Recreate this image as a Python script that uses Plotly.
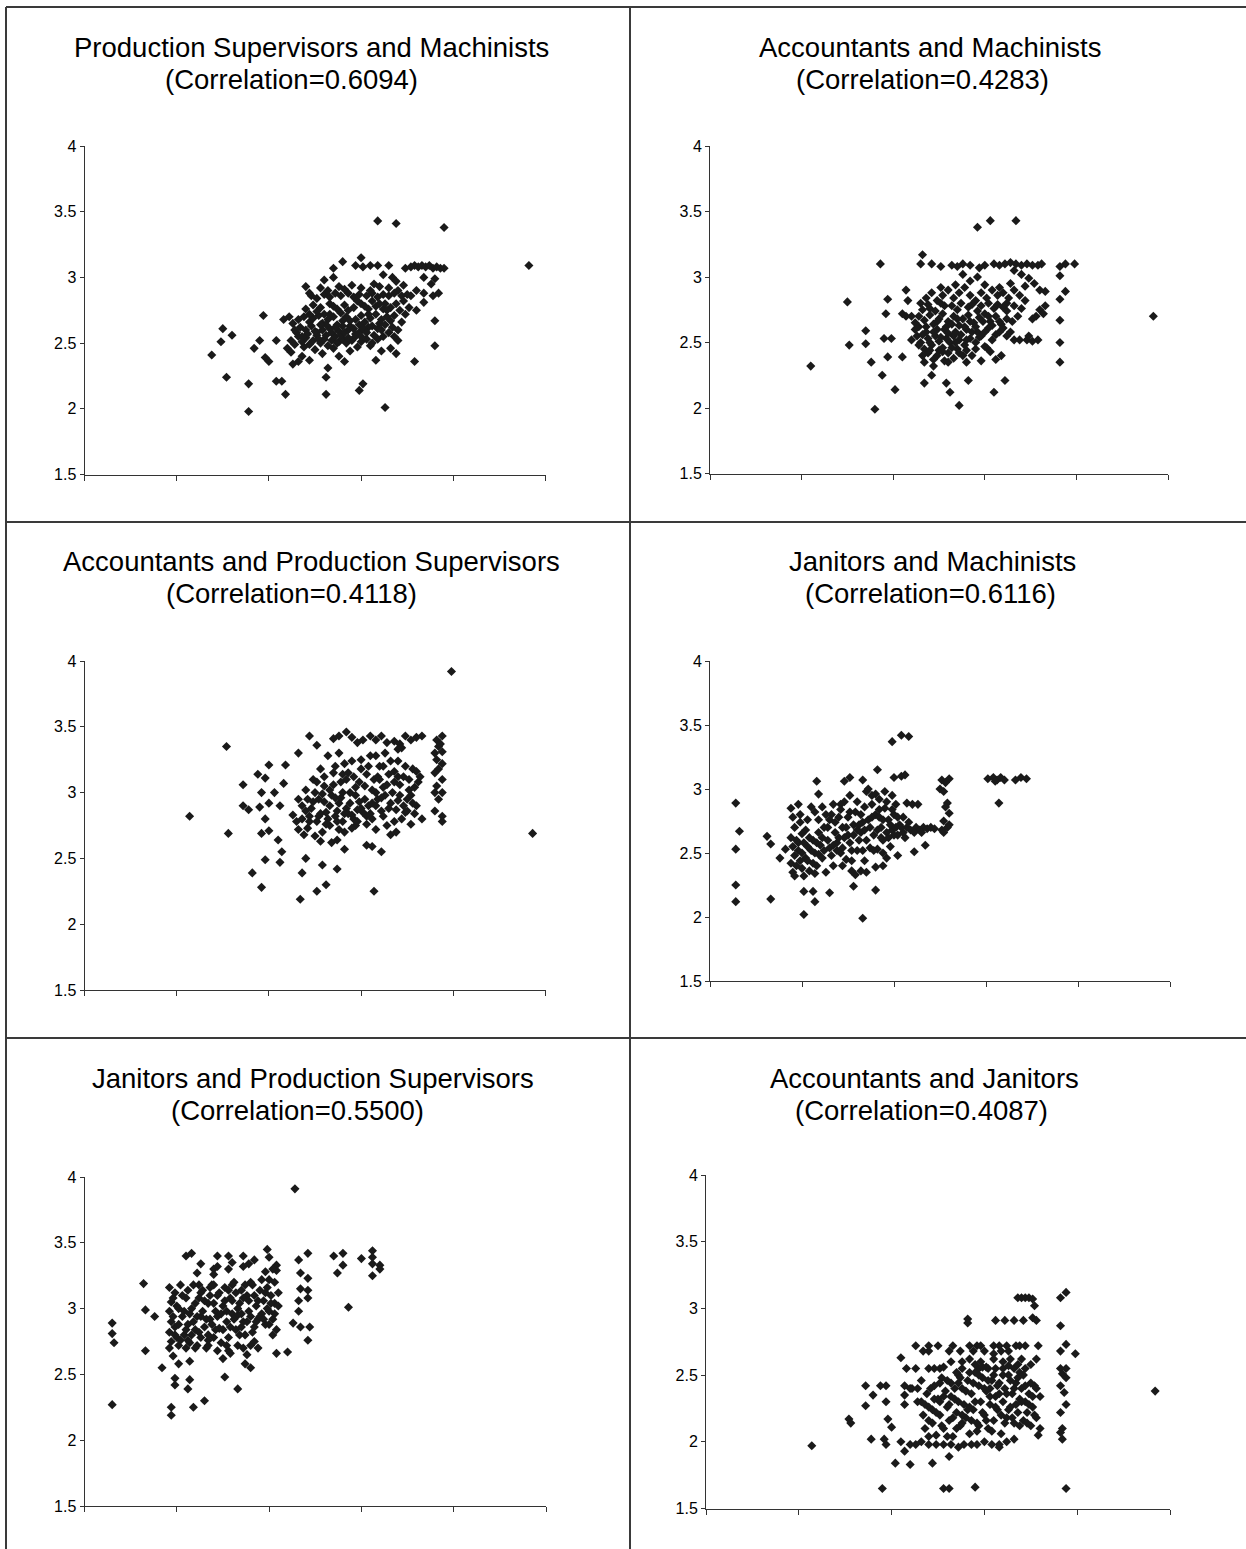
import plotly.graph_objects as go

W, H = 1246, 1549

# ---------------- data ----------------
title_lines = [
    "Production Supervisors and Machinists",
    "Accountants and Machinists",
    "Accountants and Production Supervisors",
    "Janitors and Machinists",
    "Janitors and Production Supervisors",
    "Accountants and Janitors",
]
corr_lines = [
    "(Correlation=0.6094)",
    "(Correlation=0.4283)",
    "(Correlation=0.4118)",
    "(Correlation=0.6116)",
    "(Correlation=0.5500)",
    "(Correlation=0.4087)",
]
y_ticks = [1.5, 2, 2.5, 3, 3.5, 4]
y_tick_labels = ["1.5", "2", "2.5", "3", "3.5", "4"]
x_ticks = [1.5, 2, 2.5, 3, 3.5, 4]

ps_machinists = [
    (2.19,2.41),(2.24,2.51),(2.25,2.61),(2.30,2.56),(2.27,2.24),(2.39,2.19),(2.39,1.98),(2.42,2.46),
    (2.45,2.52),(2.47,2.71),(2.48,2.39),(2.50,2.36),(2.54,2.52),(2.54,2.21),(2.57,2.21),(2.59,2.11),
    (2.58,2.68),(2.61,2.70),(2.60,2.46),(2.62,2.43),(2.63,2.34),(2.66,2.36),(2.81,2.11),(2.81,2.24),
    (2.82,2.31),(2.99,2.14),(3.01,2.19),(3.13,2.01),(3.29,2.36),(3.40,2.48),(3.40,2.67),(3.45,3.38),
    (3.09,3.43),(3.19,3.41),(3.91,3.09),
    (3.24,3.07),(3.27,3.08),(3.29,3.09),(3.31,3.08),(3.33,3.09),(3.35,3.08),(3.37,3.09),(3.39,3.07),
    (3.41,3.08),(3.43,3.07),(3.45,3.07),
    (2.70,2.93),(2.72,2.88),(2.80,2.98),(2.85,3.00),(2.85,3.07),(2.90,3.12),(2.97,3.09),(3.00,3.15),
    (3.01,3.08),(3.05,3.09),(3.09,3.09),(3.15,3.09),(3.12,3.02),(3.17,3.00),(3.19,2.97),(3.23,2.94),
    (3.34,3.00),(3.40,2.99),(3.38,2.95),(3.27,2.86),(3.30,2.90),(3.34,2.81),(3.26,2.77),(3.30,2.75),
    (3.34,2.88),(3.39,2.86),(3.42,2.88),(3.21,2.75),(3.18,2.71),(3.12,2.76),
    (2.62,2.52),(2.64,2.49),(2.66,2.55),(2.68,2.51),(2.70,2.54),(2.72,2.49),(2.74,2.52),(2.76,2.56),
    (2.78,2.50),(2.80,2.53),(2.82,2.48),(2.84,2.52),(2.86,2.55),(2.88,2.51),(2.90,2.53),(2.92,2.50),
    (2.95,2.52),(2.97,2.55),(3.00,2.51),(3.03,2.53),(3.06,2.50),(3.09,2.53),
    (2.63,2.65),(2.66,2.68),(2.69,2.70),(2.72,2.66),(2.74,2.69),(2.77,2.71),(2.79,2.65),(2.82,2.68),
    (2.85,2.70),(2.87,2.64),(2.90,2.67),(2.92,2.70),(2.94,2.63),(2.97,2.68),(3.00,2.71),(3.02,2.66),
    (3.05,2.69),(3.08,2.72),(3.10,2.65),(3.14,2.70),(3.16,2.67),
    (2.70,2.60),(2.76,2.58),(2.83,2.61),(2.88,2.59),(2.93,2.60),(2.99,2.58),(3.04,2.62),(3.11,2.60),
    (2.70,2.76),(2.74,2.79),(2.78,2.77),(2.83,2.80),(2.87,2.76),(2.91,2.79),(2.96,2.77),(3.00,2.80),
    (3.04,2.76),(3.08,2.78),(3.13,2.80),(3.16,2.77),
    (2.73,2.86),(2.76,2.84),(2.80,2.87),(2.83,2.85),(2.86,2.88),(2.89,2.86),(2.93,2.88),(2.96,2.85),
    (2.99,2.87),(3.03,2.86),(3.06,2.88),(3.09,2.85),(3.12,2.87),(3.15,2.86),(3.18,2.88),(3.22,2.86),
    (3.25,2.87),
    (2.68,2.40),(2.72,2.37),(2.75,2.45),(2.79,2.42),(2.85,2.46),(2.88,2.40),(2.91,2.36),(2.94,2.44),
    (2.98,2.47),(3.05,2.48),(3.08,2.37),(3.11,2.44),(3.16,2.46),(3.20,2.52),(3.19,2.42),
    (2.78,2.92),(2.88,2.93),(2.95,2.94),(3.07,2.95),(3.10,2.93),
    (2.65,2.58),(2.67,2.62),(2.69,2.47),(2.71,2.57),(2.73,2.63),(2.75,2.59),(2.77,2.53),(2.79,2.60),
    (2.81,2.64),(2.81,2.56),(2.83,2.72),(2.84,2.58),(2.86,2.62),(2.87,2.50),(2.89,2.56),(2.90,2.63),
    (2.91,2.58),(2.93,2.54),(2.94,2.67),(2.96,2.61),(2.97,2.57),(2.99,2.64),(3.00,2.55),(3.01,2.61),
    (3.03,2.58),(3.04,2.72),(3.06,2.63),(3.07,2.56),(3.09,2.61),(3.11,2.68),(3.12,2.55),(3.13,2.64),
    (3.15,2.58),(3.17,2.62),(3.18,2.55),(2.76,2.74),(2.80,2.72),(2.85,2.78),(2.89,2.73),(2.93,2.75),
    (2.98,2.82),(3.02,2.78),(3.06,2.82),(3.10,2.80),(3.14,2.75),(3.19,2.80),(3.23,2.82),(2.82,2.90),
    (2.91,2.91),(3.00,2.92),(3.05,2.90),(3.15,2.92),(3.20,2.90),(2.78,2.64),(2.72,2.72),(2.68,2.55),
    (2.64,2.60),(3.22,2.66),(3.24,2.72),(3.20,2.60),
]

acc_machinists = [
    (2.05,2.32),(2.25,2.81),(2.26,2.48),(2.35,2.59),(2.35,2.49),(2.38,2.35),(2.40,1.99),(2.43,3.10),
    (2.44,2.25),(2.45,2.53),(2.47,2.83),(2.46,2.72),(2.47,2.39),(2.51,2.14),(2.49,2.53),(2.55,2.39),
    (2.57,2.90),(2.55,2.72),(2.66,3.17),(2.65,3.10),(2.71,3.10),(2.76,3.08),(2.67,2.19),(2.71,2.25),
    (2.79,2.19),(2.81,2.12),(2.86,2.02),(2.91,2.21),(2.90,2.35),(2.96,3.38),(3.03,3.43),(3.17,3.43),
    (3.05,2.12),(3.11,2.21),(3.41,2.35),(3.41,2.50),(3.41,2.67),(3.41,2.83),(3.41,3.01),(3.41,3.08),
    (3.44,3.10),(3.49,3.10),(3.92,2.70),(3.44,2.89),(3.33,2.89),
    (2.82,3.09),(2.85,3.08),(2.88,3.10),(2.92,3.09),(2.97,3.07),(3.00,3.09),(3.05,3.10),(3.08,3.09),
    (3.11,3.10),(3.14,3.11),(3.17,3.10),(3.20,3.09),(3.23,3.10),(3.26,3.09),(3.29,3.09),(3.31,3.10),
    (3.16,3.05),(3.20,3.02),(3.24,2.99),(3.27,2.95),(3.22,2.93),(3.30,2.90),(3.33,2.78),(3.30,2.75),
    (3.28,2.70),(3.26,2.68),(3.32,2.72),
    (3.16,2.52),(3.19,2.52),(3.23,2.52),(3.26,2.51),(3.29,2.52),(3.24,2.55),
    (2.60,2.52),(2.63,2.55),(2.65,2.50),(2.67,2.45),(2.69,2.53),(2.71,2.48),(2.73,2.55),(2.75,2.51),
    (2.77,2.46),(2.79,2.53),(2.81,2.50),(2.83,2.55),(2.86,2.52),(2.89,2.48),(2.92,2.53),(2.95,2.50),
    (2.98,2.55),(3.01,2.46),(3.04,2.52),
    (2.62,2.65),(2.64,2.70),(2.67,2.67),(2.70,2.71),(2.72,2.64),(2.75,2.68),(2.77,2.72),(2.80,2.66),
    (2.83,2.70),(2.86,2.63),(2.88,2.68),(2.91,2.71),(2.94,2.65),(2.97,2.69),(3.00,2.72),(3.03,2.66),
    (3.06,2.70),(3.09,2.64),(3.12,2.68),
    (2.66,2.40),(2.67,2.35),(2.69,2.42),(2.72,2.37),(2.75,2.44),(2.78,2.36),(2.80,2.42),(2.83,2.38),
    (2.85,2.45),(2.88,2.40),(2.95,2.45),(3.00,2.47),(3.06,2.37),(3.09,2.40),
    (2.65,2.80),(2.68,2.84),(2.71,2.88),(2.74,2.82),(2.77,2.86),(2.80,2.90),(2.83,2.84),(2.86,2.88),
    (2.89,2.92),(2.92,2.86),(2.95,2.82),(2.98,2.88),(3.01,2.84),(3.04,2.90),(3.07,2.86),(3.10,2.88),
    (3.13,2.84),(3.16,2.90),(3.19,2.86),
    (2.68,2.58),(2.74,2.60),(2.79,2.62),(2.84,2.58),(2.90,2.60),(2.96,2.58),(3.02,2.61),(3.08,2.58),
    (3.12,2.55),(3.14,2.58),
    (2.70,2.76),(2.78,2.78),(2.85,2.75),(2.91,2.77),(2.98,2.78),(3.05,2.76),(3.10,2.77),
    (2.60,2.70),(2.58,2.82),(2.57,2.70),(2.92,2.97),(2.88,3.02),(2.96,3.00),(3.14,2.95),(2.98,2.36),
    (2.62,2.60),(2.64,2.48),(2.66,2.56),(2.68,2.62),(2.70,2.50),(2.72,2.58),(2.74,2.66),(2.76,2.54),
    (2.78,2.60),(2.80,2.57),(2.82,2.64),(2.84,2.50),(2.85,2.68),(2.87,2.56),(2.89,2.62),(2.90,2.52),
    (2.92,2.66),(2.93,2.58),(2.95,2.62),(2.97,2.54),(2.99,2.66),(3.00,2.58),(3.02,2.70),(3.04,2.63),
    (3.06,2.56),(3.08,2.66),(3.10,2.61),(3.12,2.74),(3.15,2.66),(3.18,2.70),(3.20,2.76),(3.22,2.82),
    (2.66,2.75),(2.69,2.79),(2.73,2.74),(2.76,2.80),(2.82,2.78),(2.87,2.80),(2.93,2.79),(2.96,2.74),
    (3.02,2.80),(3.07,2.79),(3.12,2.80),(3.16,2.78),(2.70,2.44),(2.74,2.40),(2.77,2.43),(2.82,2.46),
    (2.86,2.42),(2.90,2.44),(2.93,2.40),(3.03,2.43),(2.72,2.32),(2.80,2.35),(2.64,2.62),(2.76,2.92),
    (2.84,2.94),(3.00,2.94),(3.08,2.92),
]

acc_ps = [
    (2.07,2.82),(2.27,3.35),(2.28,2.69),(2.36,3.06),(2.36,2.90),(2.39,2.87),(2.41,2.39),(2.44,3.14),
    (2.46,3.00),(2.46,2.28),(2.45,2.89),(2.48,3.11),(2.48,2.80),(2.46,2.69),(2.48,2.49),(2.50,3.21),
    (2.50,2.92),(2.50,2.71),(2.53,3.00),(2.55,2.64),(2.56,2.47),(2.57,2.55),(2.56,2.90),(2.58,3.07),
    (2.59,3.21),(2.66,3.30),(2.68,2.39),(2.67,2.19),(2.70,2.50),(2.72,3.43),(2.76,3.36),(2.76,2.25),
    (2.79,2.45),(2.81,2.30),(2.87,2.42),(2.91,2.57),(3.07,2.25),(3.11,2.55),(3.03,2.60),(3.06,2.59),
    (3.49,3.92),(3.93,2.69),
    (3.41,3.40),(3.44,3.43),(3.42,3.35),(3.40,3.30),(3.44,3.31),(3.41,3.25),(3.44,3.22),(3.42,3.18),
    (3.40,3.15),(3.44,3.10),(3.41,3.05),(3.40,3.00),(3.44,3.00),(3.42,2.95),(3.40,2.86),(3.44,2.82),
    (3.44,2.78),(3.43,3.37),
    (2.85,3.41),(2.88,3.43),(2.92,3.46),(2.95,3.42),(2.98,3.38),(3.01,3.40),(3.05,3.43),(3.08,3.40),
    (3.11,3.43),(3.14,3.38),(3.18,3.39),(3.21,3.37),(3.24,3.43),(3.27,3.40),(3.30,3.42),(3.33,3.43),
    (3.22,3.34),(3.20,3.33),
    (2.63,2.83),(2.66,2.95),(2.68,2.80),(2.70,3.02),(2.71,2.73),(2.73,2.88),(2.74,3.10),(2.76,2.78),
    (2.77,2.95),(2.79,2.70),(2.80,3.05),(2.81,2.85),(2.83,2.75),(2.84,2.98),(2.85,3.15),(2.86,2.82),
    (2.88,2.92),(2.89,3.08),(2.90,2.78),(2.91,3.22),(2.92,2.88),(2.94,3.00),(2.95,2.83),(2.96,3.12),
    (2.97,2.75),(2.99,2.93),(3.00,3.18),(3.01,2.85),(3.02,3.05),(3.04,2.90),(3.05,3.28),(3.06,2.80),
    (3.07,3.10),(3.09,2.95),(3.10,3.20),(3.11,2.86),(3.12,3.04),(3.14,2.75),(3.15,3.14),(3.16,2.92),
    (3.18,3.08),(3.19,2.70),(3.20,3.24),(3.21,2.98),(3.23,3.12),(3.24,2.85),(3.26,3.02),(3.27,2.76),
    (3.28,3.18),(3.30,2.90),(3.31,3.08),(3.33,2.80),(3.32,3.12),
    (2.72,2.82),(2.78,2.84),(2.82,2.80),(2.87,2.86),(2.93,2.84),(2.98,2.87),(3.03,2.82),(2.75,3.00),
    (2.83,3.02),(2.90,3.00),(2.97,3.04),(3.08,3.00),(3.13,2.98),(2.80,2.93),(2.86,2.96),(2.78,3.18),
    (2.82,3.28),(2.88,3.30),(3.00,3.25),(3.08,3.28),(3.13,3.30),(2.93,3.15),(2.71,2.95),(2.66,2.72),
    (2.69,2.68),(2.75,2.67),(2.78,2.63),(2.84,2.62),(2.87,2.64),(2.91,2.70),(2.95,2.73),(3.03,2.76),
    (3.08,2.72),(3.16,2.68),(3.19,2.87),(3.22,2.80),(3.25,2.95),(3.28,2.92),(3.29,2.84),
    (2.70,2.86),(2.74,2.93),(2.77,2.82),(2.79,2.99),(2.81,2.76),(2.83,2.90),(2.85,3.06),(2.87,2.78),
    (2.89,2.96),(2.91,2.84),(2.92,3.10),(2.94,2.92),(2.96,2.80),(2.97,2.98),(2.99,3.08),(3.00,2.88),
    (3.02,2.95),(3.03,3.14),(3.05,2.84),(3.06,3.02),(3.08,2.90),(3.09,3.12),(3.11,2.96),(3.12,3.20),
    (3.14,3.06),(3.15,2.88),(3.17,3.00),(3.18,3.16),(3.20,2.94),(3.21,3.06),(3.23,2.90),(3.24,3.20),
    (3.26,3.10),(3.27,2.98),(3.29,3.04),(3.30,3.16),(2.76,3.08),(2.80,3.12),(2.86,3.20),(2.90,3.14),
    (2.95,3.24),(3.04,3.20),(3.10,3.10),(3.16,3.24),(3.20,3.12),(2.88,2.72),(2.98,2.78),(3.06,2.92),
    (3.12,2.82),(3.18,2.78),(3.25,2.86),(2.72,2.78),(2.68,2.90),(2.65,2.78),
]

jan_machinists = [
    (1.64,2.89),(1.66,2.67),(1.64,2.53),(1.64,2.25),(1.64,2.12),(1.81,2.63),(1.83,2.57),(1.83,2.14),
    (1.88,2.46),(1.91,2.53),(2.01,2.02),(2.01,2.20),(2.06,2.20),(2.07,2.12),(2.15,2.19),(2.28,2.24),
    (2.33,1.99),(2.40,2.21),(2.35,2.35),(2.40,2.39),(2.61,2.51),(2.67,2.56),(2.49,3.37),(2.54,3.42),
    (2.58,3.41),(2.41,3.15),(2.08,3.06),(2.09,2.96),(2.33,3.07),(2.26,3.09),(2.23,3.06),(2.50,3.09),
    (2.54,3.10),(2.56,3.11),(2.49,2.95),(2.57,2.89),(2.62,2.69),
    (2.76,3.07),(2.78,3.05),(2.80,3.08),(2.75,3.00),(2.77,2.98),(2.79,2.89),(2.78,2.86),(2.80,2.81),
    (2.77,2.75),(2.79,2.70),(2.80,2.72),(2.76,2.68),(2.77,2.66),
    (3.01,3.08),(3.04,3.09),(3.06,3.07),(3.08,3.09),(3.10,3.07),(3.05,3.06),(3.16,3.07),(3.19,3.09),
    (3.22,3.08),(3.07,2.89),
    (1.94,2.85),(1.95,2.78),(1.96,2.70),(1.94,2.62),(1.95,2.55),(1.96,2.48),(1.94,2.42),(1.95,2.35),
    (1.96,2.32),(1.98,2.88),(1.99,2.74),(2.00,2.65),(1.98,2.58),(2.00,2.50),(1.99,2.44),(2.00,2.38),
    (2.02,2.68),(2.03,2.55),(2.02,2.46),(2.04,2.36),(2.05,2.86),(2.06,2.60),(2.07,2.50),(2.08,2.40),
    (2.09,2.76),(2.10,2.56),(2.11,2.62),(2.12,2.52),(2.13,2.80),(2.14,2.70),(2.15,2.54),(2.16,2.48),
    (2.17,2.88),(2.18,2.66),(2.19,2.58),(2.20,2.78),(2.21,2.50),(2.22,2.70),(2.23,2.90),(2.24,2.45),
    (2.25,2.64),(2.26,2.82),(2.27,2.52),(2.28,2.72),(2.29,2.33),(2.30,2.90),(2.31,2.60),(2.32,2.80),
    (2.33,2.52),(2.34,2.68),(2.35,2.98),(2.36,2.76),(2.37,2.54),(2.38,2.88),(2.39,2.64),(2.40,2.80),
    (2.41,2.53),(2.42,2.92),(2.43,2.70),(2.44,2.60),(2.45,2.85),(2.46,2.66),(2.47,2.76),(2.48,2.55),
    (2.49,2.68),(2.50,2.80),(2.52,2.64),(2.53,2.72),(2.55,2.66),(2.57,2.70),(2.59,2.68),(2.60,2.88),
    (2.52,2.48),(2.51,2.88),(2.45,2.98),(2.36,3.00),(2.26,2.95),(2.21,2.88),(2.16,2.80),(2.11,2.86),
    (2.31,2.72),(2.23,2.62),(2.17,2.40),(2.13,2.35),(2.07,2.34),(2.01,2.32),(2.09,2.49),(2.19,2.52),
    (2.27,2.44),(2.34,2.44),(2.44,2.50),(2.50,2.64),(2.55,2.78),(2.62,2.70),(2.64,2.68),(2.66,2.70),
    (2.40,2.96),(2.38,2.95),(2.30,2.68),(2.42,2.78),
    (1.97,2.60),(1.98,2.52),(1.97,2.40),(1.99,2.80),(2.01,2.58),(2.03,2.44),(2.04,2.62),(2.05,2.52),
    (2.06,2.42),(2.08,2.58),(2.09,2.66),(2.11,2.46),(2.12,2.70),(2.14,2.60),(2.15,2.76),(2.17,2.56),
    (2.18,2.74),(2.20,2.62),(2.21,2.84),(2.22,2.54),(2.24,2.70),(2.25,2.78),(2.26,2.58),(2.28,2.64),
    (2.29,2.82),(2.30,2.52),(2.32,2.66),(2.33,2.74),(2.34,2.86),(2.35,2.60),(2.37,2.70),(2.38,2.78),
    (2.39,2.52),(2.41,2.68),(2.42,2.84),(2.43,2.62),(2.44,2.76),(2.46,2.90),(2.47,2.62),(2.48,2.72),
    (2.49,2.84),(2.51,2.70),(2.52,2.78),(2.54,2.70),(2.56,2.62),(2.58,2.74),(2.61,2.66),(2.63,2.88),
    (2.65,2.66),(2.68,2.69),(2.70,2.70),(2.72,2.69),(2.03,2.76),(2.07,2.82),(2.27,2.36),(2.22,2.40),
    (2.32,2.36),(2.44,2.40),(2.46,2.46),
]

jan_ps = [
    (1.65,2.89),(1.65,2.81),(1.66,2.74),(1.65,2.27),(1.82,3.19),(1.83,2.99),(1.83,2.68),(1.88,2.94),
    (1.92,2.55),(1.97,2.25),(1.97,2.19),(1.99,2.47),(1.99,2.42),(2.06,2.39),(2.07,2.46),(2.09,2.25),
    (2.15,2.30),(2.07,2.60),(2.01,2.58),(2.26,2.48),(2.33,2.39),(2.37,2.58),(2.40,2.55),(2.54,2.66),
    (2.60,2.67),(2.64,3.91),(2.93,3.01),
    (2.05,3.40),(2.08,3.42),(2.22,3.40),(2.28,3.40),(2.36,3.40),(2.42,3.37),(2.39,3.34),(2.13,3.34),
    (2.49,3.45),(2.20,3.30),(2.28,3.30),(2.11,3.27),(2.85,3.40),(2.90,3.42),(2.87,3.27),(2.90,3.33),
    (3.00,3.38),(3.06,3.44),(3.06,3.39),(3.06,3.34),(3.06,3.25),(3.10,3.33),(3.10,3.30),
    (2.66,3.37),(2.71,3.42),(2.67,3.27),(2.71,3.23),(2.71,3.14),(2.71,3.08),(2.72,2.86),(2.71,2.76),
    (2.67,2.86),(2.63,2.89),(2.66,2.98),(2.67,3.15),(2.66,3.06),(2.54,3.33),(2.54,3.29),(2.50,3.39),
    (1.96,3.16),(1.97,3.05),(1.96,2.98),(1.97,2.90),(1.96,2.82),(1.97,2.75),(1.96,2.70),(1.98,2.64),
    (1.99,3.12),(2.00,3.02),(1.99,2.86),(2.00,2.78),(2.01,2.72),(2.02,3.18),(2.03,2.94),(2.04,2.80),
    (2.05,3.08),(2.06,2.88),(2.07,2.74),(2.08,3.00),(2.09,3.18),(2.10,2.84),(2.11,2.72),(2.12,3.08),
    (2.13,2.94),(2.14,3.14),(2.15,2.86),(2.16,2.70),(2.17,3.04),(2.18,2.92),(2.19,3.18),(2.20,2.78),
    (2.21,2.98),(2.22,3.10),(2.23,2.85),(2.24,2.74),(2.25,3.02),(2.26,3.16),(2.27,2.90),(2.28,2.78),
    (2.29,3.08),(2.30,2.96),(2.31,3.20),(2.32,2.84),(2.33,2.72),(2.34,3.04),(2.35,3.14),(2.36,2.90),
    (2.37,2.80),(2.38,3.10),(2.39,2.98),(2.40,2.72),(2.41,3.18),(2.42,2.86),(2.43,3.02),(2.44,2.92),
    (2.45,3.14),(2.46,2.96),(2.47,3.06),(2.48,2.88),(2.49,3.16),(2.50,2.98),(2.51,3.10),(2.52,2.92),
    (2.53,3.04),(2.54,2.84),(2.55,3.12),(2.52,2.80),(2.50,3.22),(2.40,3.20),(2.30,3.18),(2.20,3.18),
    (2.12,3.18),(2.05,2.70),(2.10,2.70),(2.22,2.68),(2.28,2.68),(2.36,2.70),(2.29,2.66),(2.25,2.62),
    (2.17,2.72),(2.13,2.78),(2.33,2.95),(2.35,2.86),(2.42,2.75),(2.44,2.70),(2.38,2.65),(2.36,3.32),
    (2.30,3.35),(2.22,3.32),(2.18,3.10),(2.20,3.26),(2.48,3.28),(2.46,3.22),(2.52,3.30),(2.53,3.20),
    (1.98,3.08),(1.98,2.94),(1.99,2.80),(2.01,3.00),(2.01,2.88),(2.02,2.76),(2.03,3.10),(2.04,2.98),
    (2.05,2.84),(2.06,3.14),(2.07,2.96),(2.08,2.80),(2.09,2.90),(2.10,3.04),(2.11,2.94),(2.12,2.82),
    (2.13,3.12),(2.14,2.98),(2.15,3.06),(2.16,2.92),(2.17,2.80),(2.18,3.16),(2.19,2.88),(2.20,3.04),
    (2.21,2.84),(2.22,2.94),(2.23,3.12),(2.24,2.96),(2.25,2.84),(2.26,3.06),(2.27,2.98),(2.28,3.14),
    (2.29,2.86),(2.30,3.06),(2.31,2.92),(2.32,3.12),(2.33,3.00),(2.34,2.80),(2.35,2.96),(2.36,3.08),
    (2.37,3.18),(2.38,2.90),(2.39,3.06),(2.40,2.94),(2.41,2.82),(2.42,3.10),(2.43,2.90),(2.44,3.06),
    (2.45,2.94),(2.47,2.92),(2.48,3.12),(2.49,3.00),(2.50,2.88),(2.51,3.04),(2.53,2.96),(2.55,3.02),
    (2.27,2.72),(2.17,2.76),(2.06,2.76),
]

acc_janitors = [
    (2.07,1.97),(2.27,2.17),(2.28,2.14),(2.36,2.42),(2.36,2.27),(2.39,2.02),(2.40,2.35),(2.45,1.65),
    (2.44,2.42),(2.47,2.42),(2.47,2.30),(2.48,2.17),(2.50,2.11),(2.47,1.98),(2.46,2.02),(2.52,1.84),
    (2.55,2.63),(2.57,2.42),(2.57,1.93),(2.58,2.55),(2.57,2.28),(2.60,1.83),(2.63,2.55),(2.67,2.68),
    (2.72,1.84),(2.78,1.65),(2.81,1.65),(2.81,1.89),(2.95,1.66),(3.44,1.65),(3.92,2.38),
    (2.91,2.92),(2.91,2.89),
    (3.06,2.91),(3.11,2.91),(3.16,2.91),(3.21,2.91),(3.26,2.93),(3.28,2.91),
    (3.18,3.08),(3.20,3.08),(3.22,3.08),(3.24,3.08),(3.26,3.07),(3.27,3.02),
    (3.41,3.08),(3.44,3.12),(3.41,2.87),(3.44,2.73),(3.41,2.68),(3.49,2.66),
    (3.41,2.55),(3.44,2.55),(3.42,2.51),(3.44,2.48),(3.41,2.42),(3.43,2.37),(3.44,2.28),(3.41,2.22),
    (3.42,2.10),(3.41,2.07),(3.42,2.02),
    (2.63,2.72),(2.70,2.72),(2.75,2.72),(2.83,2.72),(2.92,2.72),(2.96,2.72),(2.98,2.72),(3.05,2.72),
    (3.08,2.72),(3.12,2.72),(3.17,2.72),(3.19,2.72),(3.22,2.72),(3.29,2.72),
    (2.70,2.68),(2.81,2.68),(2.87,2.68),(2.94,2.68),(3.00,2.68),(3.05,2.66),(3.09,2.68),(3.13,2.68),
    (2.70,2.55),(2.73,2.55),(2.76,2.55),(2.88,2.55),(2.97,2.55),(3.02,2.55),(3.06,2.55),(3.10,2.55),
    (3.13,2.57),(3.16,2.55),(3.19,2.52),(3.22,2.55),
    (2.55,2.00),(2.60,1.98),(2.63,1.98),(2.66,2.00),(2.70,1.98),(2.74,1.98),(2.78,1.98),(2.82,1.98),
    (2.86,1.96),(2.89,1.98),(2.93,1.98),(2.96,1.98),(3.00,2.00),(3.04,1.98),(3.08,1.98),(3.12,2.00),
    (3.16,2.02),(3.08,1.96),
    (2.64,2.40),(2.66,2.30),(2.67,2.20),(2.68,2.10),(2.69,2.36),(2.70,2.26),(2.72,2.14),(2.73,2.42),
    (2.74,2.05),(2.75,2.32),(2.76,2.20),(2.77,2.48),(2.78,2.10),(2.79,2.38),(2.80,2.26),(2.81,2.16),
    (2.82,2.44),(2.83,2.04),(2.84,2.32),(2.85,2.22),(2.86,2.50),(2.87,2.12),(2.88,2.40),(2.89,2.28),
    (2.90,2.18),(2.91,2.46),(2.92,2.06),(2.93,2.36),(2.94,2.24),(2.95,2.52),(2.96,2.14),(2.97,2.42),
    (2.98,2.30),(2.99,2.48),(3.00,2.20),(3.01,2.38),(3.02,2.10),(3.03,2.28),(3.04,2.46),(3.05,2.16),
    (3.06,2.34),(3.07,2.24),(3.08,2.44),(3.09,2.06),(3.10,2.30),(3.11,2.40),(3.12,2.18),(3.13,2.50),
    (3.14,2.26),(3.15,2.36),(3.16,2.14),(3.17,2.44),(3.18,2.22),(3.19,2.32),(3.20,2.40),(3.21,2.16),
    (3.22,2.30),(3.23,2.22),(3.24,2.36),(3.25,2.12),(3.26,2.26),(3.27,2.42),(3.28,2.18),(3.29,2.05),
    (3.30,2.10),(3.30,2.34),
    (2.95,2.58),(2.98,2.60),(3.01,2.56),(3.10,2.60),(3.18,2.58),(3.25,2.58),(3.28,2.62),(2.88,2.60),
    (2.85,2.52),(2.72,2.24),(2.76,2.30),(2.82,2.34),(2.88,2.20),(2.92,2.26),(2.97,2.12),(3.03,2.40),
    (3.08,2.36),(2.80,2.04),(2.70,2.04),(2.64,2.30),(2.61,2.40),(2.57,2.35),(2.60,2.40),(2.92,2.62),
    (2.86,2.44),
    (2.66,2.46),(2.68,2.28),(2.70,2.16),(2.71,2.40),(2.73,2.32),(2.74,2.22),(2.76,2.44),(2.77,2.12),
    (2.78,2.34),(2.80,2.46),(2.81,2.28),(2.83,2.18),(2.84,2.40),(2.85,2.10),(2.86,2.30),(2.87,2.48),
    (2.88,2.14),(2.90,2.38),(2.91,2.24),(2.92,2.52),(2.93,2.16),(2.94,2.44),(2.95,2.30),(2.96,2.08),
    (2.97,2.50),(2.99,2.22),(3.00,2.40),(3.01,2.16),(3.02,2.46),(3.03,2.34),(3.04,2.08),(3.05,2.50),
    (3.06,2.26),(3.07,2.42),(3.09,2.20),(3.10,2.50),(3.11,2.14),(3.12,2.36),(3.13,2.24),(3.14,2.46),
    (3.15,2.18),(3.16,2.40),(3.17,2.28),(3.18,2.48),(3.19,2.12),(3.20,2.30),(3.21,2.50),(3.22,2.42),
    (3.23,2.14),(3.24,2.28),(3.25,2.44),(3.26,2.34),(3.27,2.20),(3.28,2.40),(3.20,2.62),(3.14,2.62),
    (3.05,2.62),(2.99,2.56),(2.78,2.56),(2.82,2.60),
]

panels_data = [ps_machinists, acc_machinists, acc_ps, jan_machinists, jan_ps, acc_janitors]

# ---------------- geometry (pixels) ----------------
# plot areas: (x_left, x_right, y_top(=4), y_bottom(=1.5))
plot_boxes = [
    (84.5, 545.5, 146.0, 474.5),
    (710.0, 1168.0, 146.0, 473.5),
    (84.5, 545.5, 661.0, 990.0),
    (710.0, 1170.0, 661.0, 981.0),
    (84.5, 546.0, 1177.0, 1506.0),
    (706.0, 1170.0, 1175.0, 1508.5),
]
row_tops = [7, 7, 522, 522, 1038, 1038]
title_cx1 = [311, 929.5, 311, 932, 312.5, 924.5]
title_cx2 = [291.5, 922.5, 291, 930.5, 297.5, 921.5]

FONT = "Liberation Sans, Arial, sans-serif"
INK = "#1a1a1a"

def px_x(v):
    return v / W

def px_y(v):
    return 1 - v / H

fig = go.Figure()
layout = dict(
    width=W, height=H,
    margin=dict(l=0, r=0, t=0, b=0, pad=0, autoexpand=False),
    paper_bgcolor="white", plot_bgcolor="white",
    showlegend=False,
    font=dict(family=FONT, color="black"),
)

annotations = []
for i, pts in enumerate(panels_data):
    n = i + 1
    xs = [p[0] for p in pts]
    ys = [p[1] for p in pts]
    xa = "x" if n == 1 else f"x{n}"
    ya = "y" if n == 1 else f"y{n}"
    fig.add_trace(go.Scatter(
        x=xs, y=ys, mode="markers", xaxis=xa, yaxis=ya,
        marker=dict(symbol="diamond", size=7, color=INK, line=dict(width=0)),
        hoverinfo="skip",
    ))
    xl, xr, yt, yb = plot_boxes[i]
    xkey = "xaxis" if n == 1 else f"xaxis{n}"
    ykey = "yaxis" if n == 1 else f"yaxis{n}"
    layout[xkey] = dict(
        domain=[px_x(xl), px_x(xr)], anchor=ya, range=[1.5, 4],
        tickvals=x_ticks, showticklabels=False, ticks="outside", ticklen=5,
        tickwidth=1, tickcolor="#333", showline=True, linecolor="#333", linewidth=1,
        showgrid=False, zeroline=False, fixedrange=True, automargin=False,
    )
    layout[ykey] = dict(
        domain=[px_y(yb), px_y(yt)], anchor=xa, range=[1.5, 4],
        tickvals=y_ticks, ticktext=y_tick_labels, ticks="outside", ticklen=4,
        tickwidth=1, tickcolor="#333", showline=True, linecolor="#333", linewidth=1,
        showgrid=False, zeroline=False, fixedrange=True, automargin=False,
        tickfont=dict(family=FONT, size=16, color="black"),
    )
    top = row_tops[i]
    annotations.append(dict(
        text=title_lines[i], xref="paper", yref="paper",
        x=px_x(title_cx1[i]), y=px_y(top + 40), xanchor="center", yanchor="middle",
        showarrow=False, font=dict(family=FONT, size=27.5, color="black"),
    ))
    annotations.append(dict(
        text=corr_lines[i], xref="paper", yref="paper",
        x=px_x(title_cx2[i]), y=px_y(top + 72), xanchor="center", yanchor="middle",
        showarrow=False, font=dict(family=FONT, size=27.5, color="black"),
    ))

layout["annotations"] = annotations

line_style = dict(color="#3a3a3a", width=2)
shapes = [
    dict(type="line", xref="paper", yref="paper", x0=px_x(6), x1=px_x(6), y0=px_y(7), y1=0, line=line_style),
    dict(type="line", xref="paper", yref="paper", x0=px_x(6), x1=1, y0=px_y(7), y1=px_y(7), line=line_style),
    dict(type="line", xref="paper", yref="paper", x0=px_x(630), x1=px_x(630), y0=px_y(7), y1=0, line=line_style),
    dict(type="line", xref="paper", yref="paper", x0=px_x(6), x1=1, y0=px_y(522), y1=px_y(522), line=line_style),
    dict(type="line", xref="paper", yref="paper", x0=px_x(6), x1=1, y0=px_y(1038), y1=px_y(1038), line=line_style),
]
layout["shapes"] = shapes

fig.update_layout(**layout)
fig.write_html(
    "out.html",
    config={"displayModeBar": False, "staticPlot": True},
    post_script="document.body.style.margin='0';document.body.style.overflow='hidden';",
)
